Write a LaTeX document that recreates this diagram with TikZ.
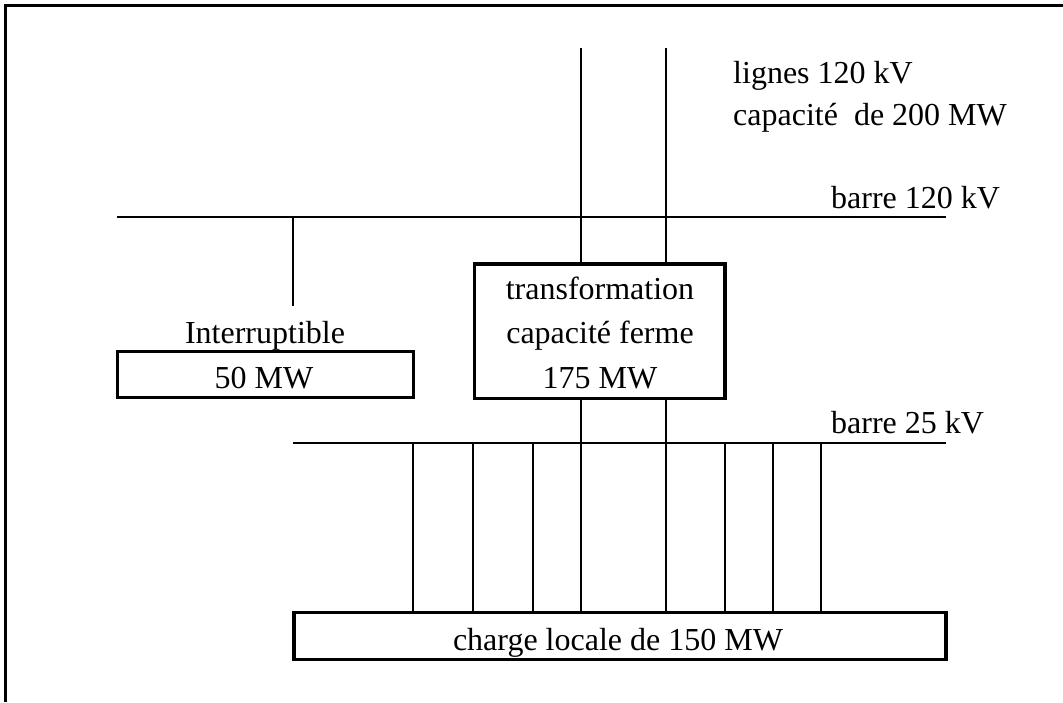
\documentclass[tikz,border=0pt]{standalone}
\usepackage{fontspec}
\setmainfont{Liberation Serif}
\newcommand{\labelsiz}{\fontsize{32}{44.5}\selectfont}
\tikzset{
    barline/.style={line width=2pt},
    frameline/.style={line width=3pt},
    box/.style={draw, line width=3.4pt, inner sep=0pt, outer sep=0pt},
    lbl/.style={inner sep=0pt, anchor=base west, font=\labelsiz},
    lblc/.style={inner sep=0pt, anchor=base, font=\labelsiz}
}

\begin{document}
\begin{tikzpicture}[x=1pt,y=-1pt]
    \useasboundingbox (0,0) rectangle (1063,702);

    % outer frame, open on two sides
    \draw[frameline] (5.5,702) -- (5.5,5.5) -- (1063,5.5);

    % bars
    \coordinate (hvleft) at (117,217);
    \coordinate (hvright) at (946,217);
    \coordinate (mvleft) at (293,443);
    \coordinate (mvright) at (946,443);
    \draw[barline] (hvleft) -- (hvright);
    \draw[barline] (mvleft) -- (mvright);

    % boxes
    \node[box, minimum width=250.5pt, minimum height=134.3pt] (transfo) at (599.8,331.1) {};
    \node[box, minimum width=296.3pt, minimum height=46pt] (interrupt) at (265.4,374.7) {};
    \node[box, minimum width=652pt, minimum height=46.6pt] (charge) at (620,636) {};

    % incoming lines
    \coordinate (lineA) at (581,48);
    \coordinate (lineB) at (666,48);
    \draw[barline] (lineA) -- (lineA |- transfo.north);
    \draw[barline] (lineB) -- (lineB |- transfo.north);
    \draw[barline] (lineA |- transfo.south) -- (lineA |- charge.north);
    \draw[barline] (lineB |- transfo.south) -- (lineB |- charge.north);

    % feed to interruptible
    \coordinate (hvtap) at (293,217);
    \coordinate (hvtapend) at (293,306);
    \draw[barline] (hvtap) -- (hvtapend);

    % local feeders
    \foreach \feedx in {413,473,533,725,773,821}{
        \coordinate (feeder) at (\feedx,443);
        \draw[barline] (feeder) -- (feeder |- charge.north);
    }

    % labels
    \node[lbl] (lignes) at (733,83) {lignes 120 kV};
    \node[lbl] (capa) at (733,125) {capacité\ \ de 200 MW};
    \node[lbl] (barrehv) at (831,208) {barre 120 kV};
    \node[lbl] (barremv) at (831,433) {barre 25 kV};
    \node[lblc] (transfoa) at (600,299) {transformation};
    \node[lblc] (transfob) at (600,343) {capacité ferme};
    \node[lblc] (transfoc) at (600,388) {175 MW};
    \node[lblc] (interlbl) at (265,343.5) {Interruptible};
    \node[lblc] (intermw) at (264,388) {50 MW};
    \node[lblc] (chargelbl) at (618,650) {charge locale de 150 MW};

\end{tikzpicture}
\end{document}
